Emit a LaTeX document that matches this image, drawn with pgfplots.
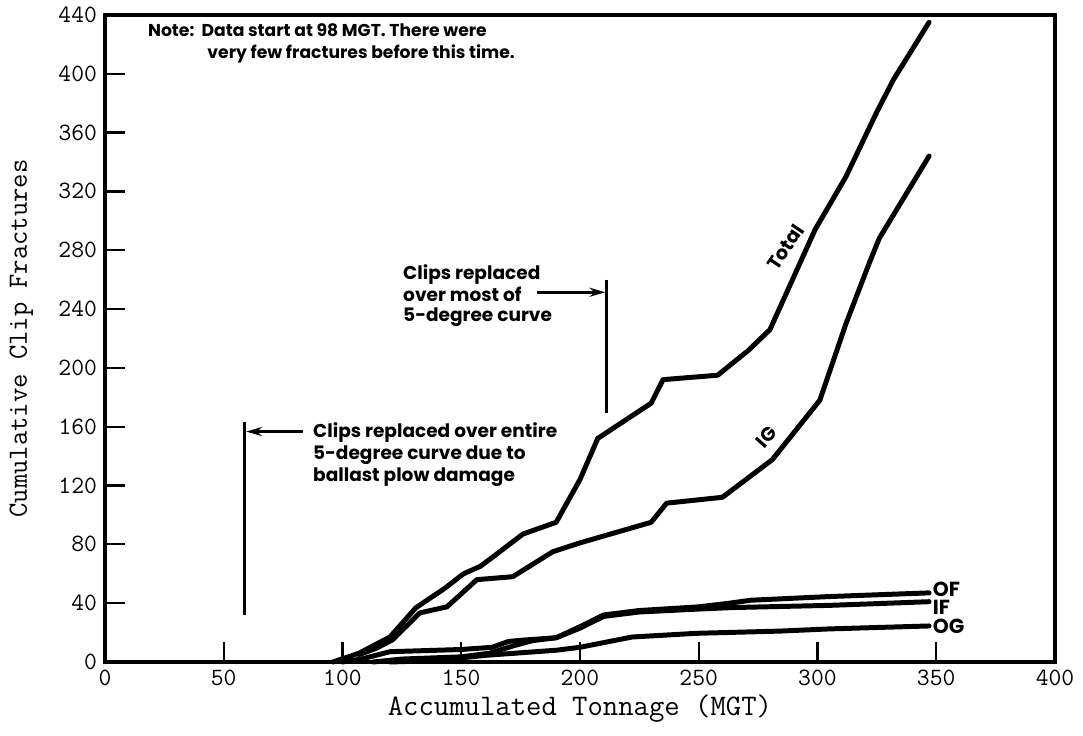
\documentclass[border=0pt]{standalone}
\usepackage{fontspec}
\usepackage{pgfplots}
\pgfplotsset{compat=1.18}
\usetikzlibrary{arrows.meta}
\newfontfamily\lettering{Poppins}

\pgfplotsset{curve/.style={black, line width=2.2pt, line join=round, line cap=round, mark=none}}

\begin{document}
\begin{tikzpicture}
\begin{axis}[
  name=ax,
  scale only axis,
  width=420.2pt, height=286.2pt,
  xmin=0, xmax=400, ymin=0, ymax=440,
  xtick={0,50,...,400},
  ytick={0,40,...,440},
  tick pos=left,
  tick align=inside,
  major tick length=9pt,
  axis line style={line width=1.5pt},
  every tick/.style={black, line width=1pt},
  /pgf/number format/assume math mode=true,
  tick label style={font=\fontsize{11}{13}\selectfont\ttfamily},
  xlabel={Accumulated Tonnage (MGT)},
  ylabel={Cumulative Clip Fractures},
  xlabel style={font=\fontsize{13.2}{15}\selectfont\ttfamily, at={(axis description cs:0.5,-0.072)}, anchor=center},
  ylabel style={font=\fontsize{12.3}{14}\selectfont\ttfamily, at={(axis description cs:-0.088,0.5)}, anchor=center},
  clip=false,
]
% Total fractures
\addplot[curve] coordinates {
  (96,0) (107,6) (120,17) (131,37) (143,50) (151,60) (158,65) (163,71)
  (176,87) (190,95) (200,124) (207.5,152) (230,176) (235,192) (258,195)
  (271,212) (280,226) (299,294) (312,330) (325,374) (332,396) (347,435)
};
% Inside gauge (IG)
\addplot[curve] coordinates {
  (107,5) (114.5,9.5) (121,15) (132.6,33.4) (144,37.5) (156.6,56) (171.7,58)
  (188.6,75) (200,81) (230,95) (236.5,108) (260,112) (281,137.6) (301,178)
  (312,230) (322,272) (326,288) (347,344)
};
% Outside field (OF)
\addplot[curve] coordinates {
  (100,0) (108,2) (120,7) (150,8.5) (163,10) (170,14) (177,15) (190,16.5)
  (200,24) (210,32) (225,35) (250,37.5) (263,40) (272,42) (305,44.5) (347,47)
};
% Inside field (IF)
\addplot[curve] coordinates {
  (113,0) (125,2) (150,3.5) (162,6) (172,11) (180,14.5) (190,16.5)
  (200,23) (210,31) (225,34) (250,36) (264,37) (305,38.5) (347,41)
};
% Outside gauge (OG)
\addplot[curve] coordinates {
  (120,0) (140,1) (160,4.5) (190,8) (200,10) (222,17) (249,19.5)
  (284,21) (305,22.5) (347,24.5)
};

% curve labels
\node[font=\lettering\bfseries\fontsize{8.5}{9}\selectfont, rotate=56, inner sep=0pt] at (axis cs:286.5,282) {Total};
\node[font=\lettering\bfseries\fontsize{8.5}{9}\selectfont, rotate=48, inner sep=0pt] at (axis cs:278.5,153) {IG};
\node[font=\lettering\bfseries\fontsize{9}{9}\selectfont, anchor=west, inner sep=1pt] at (axis cs:347.5,49.5) {OF};
\node[font=\lettering\bfseries\fontsize{9}{9}\selectfont, anchor=west, inner sep=1pt] at (axis cs:347.5,37) {IF};
\node[font=\lettering\bfseries\fontsize{9}{9}\selectfont, anchor=west, inner sep=1pt] at (axis cs:347.5,24.5) {OG};

% note
\begin{scope}[every node/.style={font=\lettering\bfseries\fontsize{7.6}{9}\selectfont, anchor=base west, inner sep=0pt}]
\node at (axis cs:18,425) {Note:\ \ Data start at 98 MGT. There were};
\node at (axis cs:43,410.5) {very few fractures before this time.};
\end{scope}

\begin{scope}[every node/.style={font=\lettering\bfseries\fontsize{8.2}{9}\selectfont, anchor=base west, inner sep=0pt}]
% first replacement
\draw[line width=1.3pt] (axis cs:58.9,163.5) -- (axis cs:58.9,32);
\draw[line width=1.1pt, -{Stealth[length=7pt,width=4pt]}] (axis cs:83.3,156.7) -- (axis cs:59.5,156.7);
\node at (axis cs:87.5,152.6) {Clips replaced over entire};
\node at (axis cs:87.5,137.6) {5-degree curve due to};
\node at (axis cs:87.5,122.6) {ballast plow damage};

% second replacement
\draw[line width=1.3pt] (axis cs:211.3,260) -- (axis cs:211.3,169.6);
\draw[line width=1.1pt, -{Stealth[length=7pt,width=4pt]}] (axis cs:181.8,251.4) -- (axis cs:210.7,251.4);
\node at (axis cs:125.4,260) {Clips replaced};
\node at (axis cs:125.4,245) {over most of};
\node at (axis cs:125.4,231.6) {5-degree curve};
\end{scope}
\end{axis}
\pgfresetboundingbox
\path ([shift={(-46.4pt,-32.3pt)}]ax.south west) rectangle ([shift={(12.4pt,6.6pt)}]ax.north east);
\end{tikzpicture}
\end{document}
